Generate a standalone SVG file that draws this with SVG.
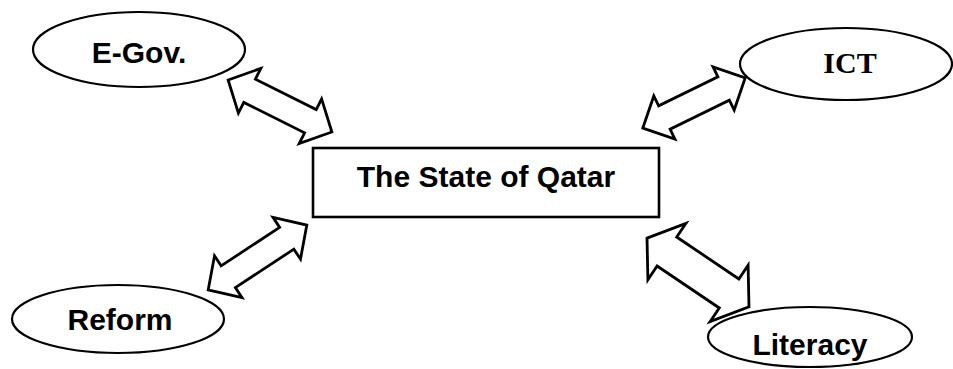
<svg xmlns="http://www.w3.org/2000/svg" width="953" height="369" viewBox="0 0 953 369">
<style>
.bg{fill:#fff}
.ell{fill:#fff;stroke:#000;stroke-width:2.2}
.box{fill:#fff;stroke:#000;stroke-width:2.6}
.arr{fill:#fff;stroke:#000;stroke-width:2.8;stroke-linejoin:miter}
.sans{font-family:"Liberation Sans",Arial,sans-serif;font-weight:bold;font-size:30px;fill:#000;text-anchor:middle}
.serif{font-family:"Liberation Serif","Times New Roman",serif;font-weight:bold;font-size:30px;fill:#000;text-anchor:middle}
</style>
<rect class="bg" x="0" y="0" width="953" height="369"/>
<g id="connectors">
<path class="arr" transform="translate(280,106) rotate(26.6)" d="M-58,0 L-34,-25 L-34,-13 L34,-13 L34,-25 L58,0 L34,25 L34,13 L-34,13 L-34,25 Z"/>
<path class="arr" transform="translate(257.5,257.5) rotate(-33.3)" d="M-59,0 L-35,-25 L-35,-13 L35,-13 L35,-25 L59,0 L35,25 L35,13 L-35,13 L-35,25 Z"/>
<path class="arr" transform="translate(694,103) rotate(-26.1)" d="M-57,0 L-33,-24 L-33,-13 L33,-13 L33,-24 L57,0 L33,24 L33,13 L-33,13 L-33,24 Z"/>
<path class="arr" transform="translate(698,272.5) rotate(34)" d="M-61.5,0 L-37.5,-34 L-37.5,-17.5 L37.5,-17.5 L37.5,-34 L61.5,0 L37.5,34 L37.5,17.5 L-37.5,17.5 L-37.5,34 Z"/>
</g>
<g id="state">
<rect class="box" x="313" y="148" width="346" height="69"/>
<text class="sans" x="486" y="187">The State of Qatar</text>
</g>
<g id="egov">
<ellipse class="ell" cx="139" cy="49.5" rx="106" ry="37.5"/>
<text class="sans" x="139" y="63">E-Gov.</text>
</g>
<g id="ict">
<ellipse class="ell" cx="846" cy="64" rx="106" ry="36"/>
<text class="serif" x="850" y="73">ICT</text>
</g>
<g id="reform">
<ellipse class="ell" cx="118" cy="319" rx="106" ry="34"/>
<text class="sans" x="120" y="330">Reform</text>
</g>
<g id="literacy">
<ellipse class="ell" cx="810" cy="337" rx="102" ry="30"/>
<text class="sans" x="810" y="355">Literacy</text>
</g>
</svg>
